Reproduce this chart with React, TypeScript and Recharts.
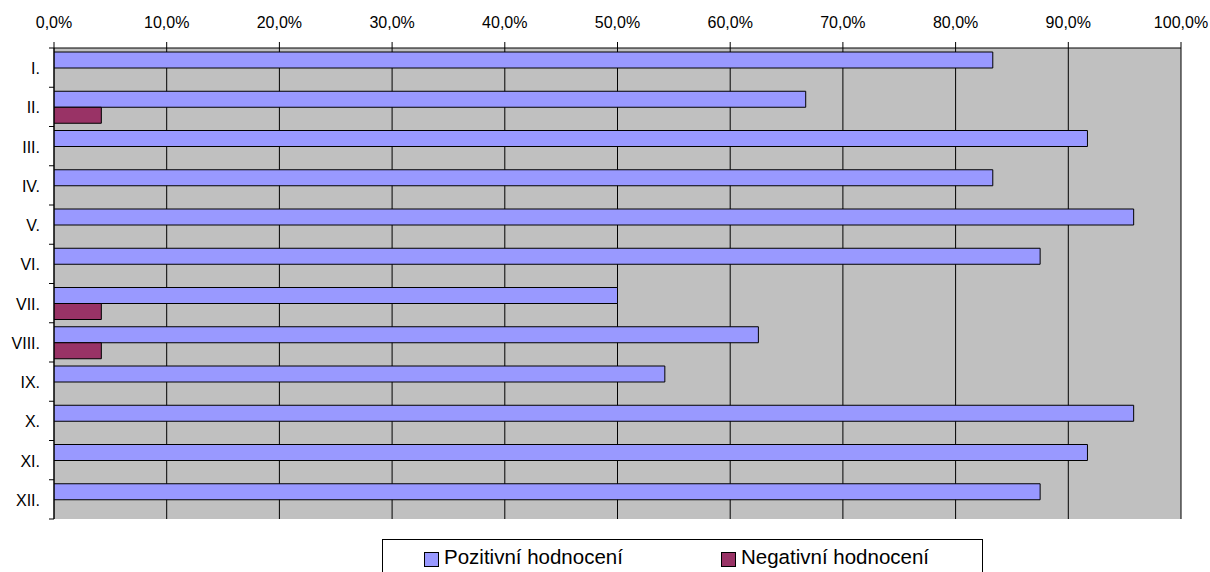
import React from 'react';
import { BarChart, Bar, XAxis, YAxis, CartesianGrid, Legend } from 'recharts';

const categories = ['I.', 'II.', 'III.', 'IV.', 'V.', 'VI.', 'VII.', 'VIII.', 'IX.', 'X.', 'XI.', 'XII.'];
const positiveValues = [83.3, 66.7, 91.7, 83.3, 95.8, 87.5, 50.0, 62.5, 54.2, 95.8, 91.7, 87.5];
const negativeValues = [0, 4.2, 0, 0, 0, 0, 4.2, 4.2, 0, 0, 0, 0];
const xTicks = [0, 10, 20, 30, 40, 50, 60, 70, 80, 90, 100];
const positiveName = 'Pozitivní hodnocení';
const negativeName = 'Negativní hodnocení';
const positiveColor = '#9999FF';
const negativeColor = '#993366';

const data = categories.map((name, i) => ({
  name,
  pos: positiveValues[i],
  neg: negativeValues[i],
}));

const FONT = '"Liberation Sans", Arial, sans-serif';
const W = 1210;
const H = 572;
const MARGIN = { top: 0, right: 29, bottom: 53, left: 0 };
const X_AXIS_H = 48;
const Y_AXIS_W = 54;
const Y_TICK_SIZE = 5;
const Y_TICK_MARGIN = 9;
const PLOT_H = H - MARGIN.top - MARGIN.bottom - X_AXIS_H;
const BAND = PLOT_H / categories.length;

const fmt = (v: number) => v.toFixed(1).replace('.', ',') + '%';

const YTick = (props: any) => {
  const { x, y, payload, index } = props;
  const axisX = x + Y_TICK_MARGIN + Y_TICK_SIZE;
  const half = BAND / 2;
  const isLast = index === categories.length - 1;
  return (
    <g>
      <line x1={axisX - Y_TICK_SIZE} x2={axisX} y1={y - half} y2={y - half} stroke="#000" strokeWidth={1} />
      {isLast && (
        <line x1={axisX - Y_TICK_SIZE} x2={axisX} y1={y + half} y2={y + half} stroke="#000" strokeWidth={1} />
      )}
      <text x={x} y={y} dy="0.4em" textAnchor="end" fill="#000" fontSize={16} fontFamily={FONT}>
        {payload.value}
      </text>
    </g>
  );
};

const legendItems = [
  { name: positiveName, color: positiveColor },
  { name: negativeName, color: negativeColor },
];

const renderLegend = () => {
  const lefts = [41, 338];
  return (
    <div
      style={{
        position: 'relative',
        width: 601,
        height: 40,
        boxSizing: 'border-box',
        border: '1px solid #000',
        background: '#fff',
        fontFamily: FONT,
      }}
    >
      {legendItems.map((it, i) => (
        <div key={it.name} style={{ position: 'absolute', left: lefts[i], top: 0 }}>
          <div
            style={{
              position: 'absolute',
              left: 0,
              top: 12,
              width: 13,
              height: 13,
              background: it.color,
              border: '1px solid #000',
            }}
          />
          <div
            style={{
              position: 'absolute',
              left: 20,
              top: 7,
              fontSize: 20.5,
              lineHeight: '20.5px',
              whiteSpace: 'nowrap',
              color: '#000',
            }}
          >
            {it.name}
          </div>
        </div>
      ))}
    </div>
  );
};

export default function App() {
  return (
    <div style={{ position: 'absolute', left: 0, top: 0, width: W, height: H, overflow: 'hidden', background: '#fff' }}>
      <BarChart
        width={W}
        height={H}
        data={data}
        layout="vertical"
        margin={MARGIN}
        barGap={0}
        barSize={16}
      >
        <CartesianGrid
          horizontal={false}
          vertical={true}
          stroke="#000"
          strokeWidth={1}
          fill="#C0C0C0"
          fillOpacity={1}
        />
        <XAxis
          type="number"
          orientation="top"
          domain={[0, 100]}
          ticks={xTicks}
          interval={0}
          tickFormatter={fmt}
          height={X_AXIS_H}
          tickSize={6}
          tickMargin={14}
          axisLine={{ stroke: '#000', strokeWidth: 1 }}
          tickLine={{ stroke: '#000', strokeWidth: 1 }}
          tick={{ fill: '#000', fontSize: 16, fontFamily: FONT }}
          allowDataOverflow
        />
        <XAxis
          xAxisId="bottom"
          type="number"
          orientation="bottom"
          domain={[0, 100]}
          height={0}
          tick={false}
          tickLine={false}
          axisLine={{ stroke: '#000', strokeWidth: 1 }}
        />
        <YAxis
          type="category"
          dataKey="name"
          width={Y_AXIS_W}
          interval={0}
          tickSize={Y_TICK_SIZE}
          tickMargin={Y_TICK_MARGIN}
          tickLine={false}
          axisLine={{ stroke: '#000', strokeWidth: 1 }}
          tick={<YTick />}
        />
        <Legend
          layout="horizontal"
          verticalAlign="middle"
          align="center"
          wrapperStyle={{ left: 382, top: 539, width: 601, height: 40 }}
          content={renderLegend}
        />
        <Bar
          dataKey="pos"
          name={positiveName}
          fill={positiveColor}
          stroke="#000"
          strokeWidth={1}
          isAnimationActive={false}
        />
        <Bar
          dataKey="neg"
          name={negativeName}
          fill={negativeColor}
          stroke="#000"
          strokeWidth={1}
          isAnimationActive={false}
        />
      </BarChart>
    </div>
  );
}
